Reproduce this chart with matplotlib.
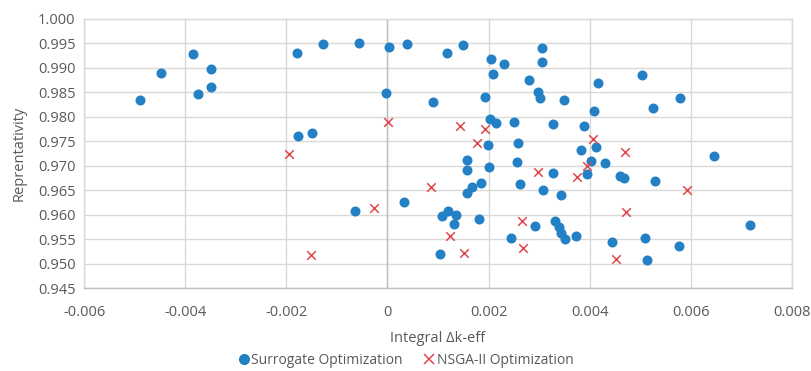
import matplotlib
matplotlib.use("Agg")
import matplotlib.pyplot as plt
from matplotlib.lines import Line2D

sur_x = [-0.00489, -0.00448, -0.00385, -0.00348, -0.00374, -0.00348, -0.00179, -0.00128,
         -0.00057, 0.00003, -0.00002, -0.00177, -0.00150, -0.00064, 0.00032,
         0.00038, 0.00117, 0.00149, 0.00305, 0.00204, 0.00230, 0.00305, 0.00209,
         0.00279, 0.00416, 0.00504, 0.00091, 0.00193, 0.00297, 0.00302, 0.00349,
         0.00578, 0.00526, 0.00409, 0.00202, 0.00214, 0.00250, 0.00328, 0.00389,
         0.00198, 0.00259, 0.00382, 0.00413, 0.00646, 0.00158, 0.00158, 0.00200,
         0.00257, 0.00328, 0.00402, 0.00431, 0.00394, 0.00460, 0.00467, 0.00530,
         0.00185, 0.00168, 0.00158, 0.00262, 0.00308, 0.00344, 0.00119, 0.00107,
         0.00136, 0.00131, 0.00181, 0.00103, 0.00244, 0.00291, 0.00331, 0.00339,
         0.00344, 0.00352, 0.00373, 0.00444, 0.00510, 0.00514, 0.00576, 0.00717]
sur_y = [0.9834, 0.9890, 0.9929, 0.9898, 0.9847, 0.9860, 0.9930, 0.9949,
         0.9950, 0.9942, 0.9848, 0.9760, 0.9766, 0.9608, 0.9626,
         0.9949, 0.9931, 0.9947, 0.9941, 0.9919, 0.9909, 0.9912, 0.9888,
         0.9875, 0.9870, 0.9886, 0.9830, 0.9841, 0.9851, 0.9839, 0.9834,
         0.9838, 0.9818, 0.9812, 0.9795, 0.9787, 0.9790, 0.9785, 0.9782,
         0.9742, 0.9746, 0.9733, 0.9738, 0.9719, 0.9712, 0.9692, 0.9698,
         0.9707, 0.9685, 0.9709, 0.9706, 0.9684, 0.9679, 0.9674, 0.9669,
         0.9664, 0.9656, 0.9645, 0.9663, 0.9651, 0.9640, 0.9607, 0.9597,
         0.9599, 0.9581, 0.9592, 0.9519, 0.9552, 0.9577, 0.9587, 0.9574,
         0.9563, 0.9550, 0.9556, 0.9544, 0.9552, 0.9507, 0.9536, 0.9579]

nsga_x = [-0.00194, 0.00002, -0.00026, -0.00151, 0.00144, 0.00192, 0.00178, 0.00406,
          0.00470, 0.00297, 0.00394, 0.00375, 0.00086, 0.00123, 0.00151, 0.00267,
          0.00269, 0.00593, 0.00472, 0.00451]
nsga_y = [0.9723, 0.9789, 0.9613, 0.9518, 0.9782, 0.9776, 0.9746, 0.9755,
          0.9729, 0.9687, 0.9700, 0.9677, 0.9656, 0.9557, 0.9522, 0.9588,
          0.9532, 0.9650, 0.9605, 0.9509]

x_ticks = [-0.006, -0.004, -0.002, 0, 0.002, 0.004, 0.006, 0.008]
x_labels = ["-0.006", "-0.004", "-0.002", "0", "0.002", "0.004", "0.006", "0.008"]
y_ticks = [0.945, 0.950, 0.955, 0.960, 0.965, 0.970, 0.975, 0.980, 0.985, 0.990, 0.995, 1.000]
y_labels = ["%.3f" % v for v in y_ticks]

plt.rcParams['font.family'] = ['Open Sans', 'DejaVu Sans']
W, H = 811, 371
fig = plt.figure(figsize=(W/100, H/100), dpi=100)
ax = fig.add_axes([84/W, 1-288/H, (792-84)/W, (288-19)/H])

blue = '#2380C4'
red = '#E0474C'
grid_c = '#D9D9D9'
txt_c = '#595959'

ax.scatter(sur_x, sur_y, s=52, c=blue, marker='o', linewidths=0, zorder=3)
ax.scatter(nsga_x, nsga_y, s=38, c=red, marker='x', linewidths=1.1, zorder=4)

ax.set_xlim(-0.006, 0.008)
ax.set_ylim(0.945, 1.000)
ax.set_xticks(x_ticks)
ax.set_xticklabels(x_labels)
ax.set_yticks(y_ticks)
ax.set_yticklabels(y_labels)
ax.grid(True, color=grid_c, linewidth=1.0, zorder=0)
ax.set_axisbelow(True)
for s in ['top', 'right', 'left']:
    ax.spines[s].set_color(grid_c)
    ax.spines[s].set_linewidth(1.0)
ax.spines['bottom'].set_color('#BFBFBF')
ax.spines['bottom'].set_linewidth(1.0)
ax.axvline(0, color='#BFBFBF', linewidth=1.0, zorder=1)
ax.tick_params(axis='both', length=0, colors=txt_c, labelsize=10.5)
ax.tick_params(axis='x', pad=12)
ax.tick_params(axis='y', pad=6)

ax.set_xlabel("Integral Δk-eff", color=txt_c, fontsize=10.5, labelpad=8)
ax.set_ylabel("Reprentativity", color=txt_c, fontsize=10.5, labelpad=8)

handles = [Line2D([], [], marker='o', linestyle='', color=blue, markersize=8, markeredgewidth=0),
           Line2D([], [], marker='x', linestyle='', color=red, markersize=7, markeredgewidth=1.1)]
fig.legend(handles, ["Surrogate Optimization", "NSGA-II Optimization"], loc='center',
           bbox_to_anchor=(405/W, 1-360/H), ncol=2, frameon=False, fontsize=10,
           handletextpad=0.05, columnspacing=1.4, labelcolor=txt_c, handlelength=1.0)

fig.savefig("out.png", dpi=100)
